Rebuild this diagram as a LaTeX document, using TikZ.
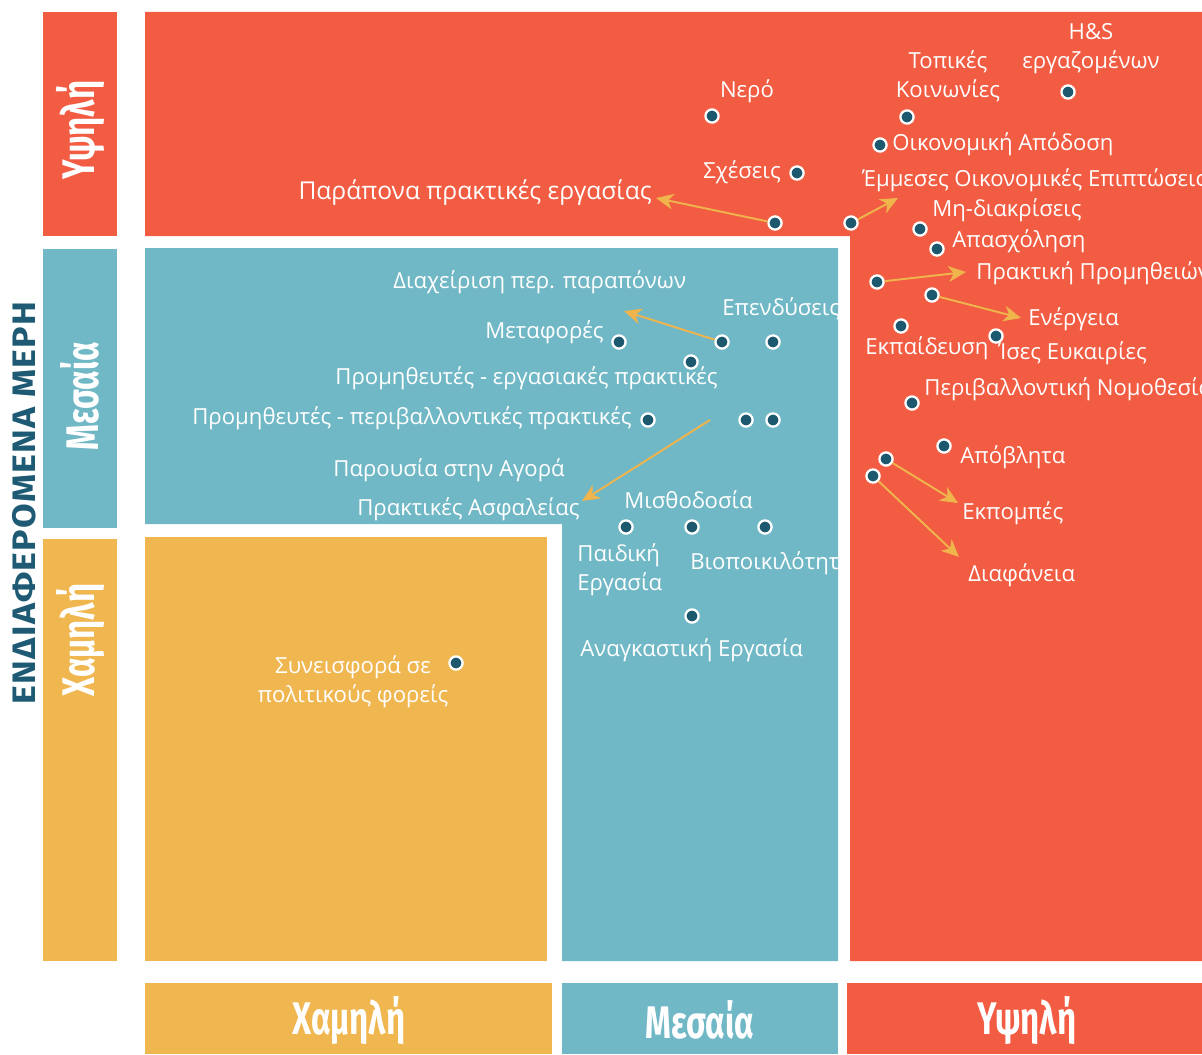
\documentclass[tikz,border=0pt]{standalone}
\usepackage{fontspec}
\setmainfont{Open Sans}
\newfontfamily\axisfont{Fira Sans}[FakeStretch=0.72]
\newfontfamily\titlefont{Fira Sans}[FakeStretch=1.1, LetterSpace=4]
\usetikzlibrary{arrows.meta}

\definecolor{hired}{RGB}{241,92,66}
\definecolor{midteal}{RGB}{113,184,198}
\definecolor{lowyel}{RGB}{240,183,80}
\definecolor{dotblue}{RGB}{28,88,110}
\definecolor{arrowyel}{RGB}{240,180,76}
\definecolor{axisblue}{RGB}{30,90,115}

\begin{document}
\begin{tikzpicture}[
x=0.02cm, y=-0.02cm,
topic/.style={
circle,
fill=dotblue,
draw=white,
line width=1.3pt,
minimum size=7.5pt,
inner sep=0 pt,
},
txt/.style={text=white, inner sep=0 pt, font=\fontsize{12.6}{16.5}\selectfont},
link/.style={draw=arrowyel, line width=1.1pt, -{Stealth[length=10pt, width=9pt, inset=3pt]}},
axis/.style={text=white, font=\axisfont\bfseries\fontsize{26}{30}\selectfont}
]
\useasboundingbox (0,0) rectangle (1202,1054);

% zones
\fill[hired] (145,12) rectangle (1202,236) (850,12) rectangle (1202,961);
\fill[midteal] (145,248) rectangle (838,524) (562,248) rectangle (838,961);
\fill[lowyel] (145,537) rectangle (547,961);

% axis boxes
\fill[hired] (43,12) rectangle (117,236);
\fill[midteal] (43,249) rectangle (117,528);
\fill[lowyel] (43,539) rectangle (117,961);
\fill[lowyel] (145,983) rectangle (552,1054);
\fill[midteal] (562,983) rectangle (838,1054);
\fill[hired] (847,983) rectangle (1202,1054);

% axis labels
\node[axis, rotate=90] (y-hi) at (80,130) {Υψηλή};
\node[axis, rotate=90] (y-mid) at (80,396) {Μεσαία};
\node[axis, rotate=90] (y-lo) at (80,640) {Χαμηλή};
\node[rotate=90, text=axisblue, font=\titlefont\bfseries\fontsize{18.5}{20}\selectfont]
(y-title) at (24,503) {ΕΝΔΙΑΦΕΡΟΜΕΝΑ ΜΕΡΗ};
\node[axis] (x-lo) at (349,1020) {Χαμηλή};
\node[axis] (x-mid) at (700,1020) {Μεσαία};
\node[axis] (x-hi) at (1027,1020) {Υψηλή};

% high zone
\node[topic] (nero) at (712,116) {};
\node[txt] (nero-t) at (747,91) {Νερό};
\node[topic] (topikes) at (907,117) {};
\node[txt, align=center] (topikes-t) at (948,76) {Τοπικές\\Κοινωνίες};
\node[topic] (hs) at (1068,92) {};
\node[txt, align=center] (hs-t) at (1091,49) {H\&S\\εργαζομένων};
\node[topic] (oikap) at (880,145) {};
\node[txt, anchor=west] (oikap-t) at (892,144) {Οικονομική Απόδοση};
\node[topic] (sxeseis) at (797,173) {};
\node[txt, anchor=east] (sxeseis-t) at (781,172) {Σχέσεις};
\node[txt, anchor=east, font=\fontsize{14}{16.5}\selectfont] (parapona-t) at (652,193) {Παράπονα πρακτικές εργασίας};
\node[topic] (parapona) at (775,223) {};
\coordinate (parapona-a) at (656,198);
\node[txt, anchor=west] (emmeses-t) at (862,180) {Έμμεσες Οικονομικές Επιπτώσεις};
\node[topic] (emmeses) at (851,223) {};
\coordinate (emmeses-a) at (898,198);
\node[topic] (mhdiakr) at (920,229) {};
\node[txt, anchor=west] (mhdiakr-t) at (932,210) {Μη-διακρίσεις};
\node[topic] (apasx) at (937,249) {};
\node[txt, anchor=west] (apasx-t) at (952,241) {Απασχόληση};
\node[topic] (promith) at (877,282) {};
\coordinate (promith-a) at (966,272);
\node[txt, anchor=west] (promith-t) at (976,273) {Πρακτική Προμηθειών};
\node[topic] (energeia) at (932,295) {};
\coordinate (energeia-a) at (1021,318);
\node[txt, anchor=west] (energeia-t) at (1028,319) {Ενέργεια};
\node[topic] (ekpaid) at (901,326) {};
\node[txt, anchor=west] (ekpaid-t) at (865,348) {Εκπαίδευση};
\node[topic] (ises) at (996,336) {};
\node[txt, anchor=west] (ises-t) at (998,353) {Ίσες Ευκαιρίες};
\node[topic] (perivnom) at (912,403) {};
\node[txt, anchor=west] (perivnom-t) at (924,389) {Περιβαλλοντική Νομοθεσία};
\node[topic] (apovl) at (944,446) {};
\node[txt, anchor=west] (apovl-t) at (960,457) {Απόβλητα};
\node[topic] (ekpompes) at (886,459) {};
\coordinate (ekpompes-a) at (958,503);
\node[txt, anchor=west] (ekpompes-t) at (962,513) {Εκπομπές};
\node[topic] (diaf) at (873,476) {};
\coordinate (diaf-a) at (959,557);
\node[txt, anchor=west] (diaf-t) at (968,575) {Διαφάνεια};

% medium zone
\begin{scope}
\clip (145,248) rectangle (838,961);
\node[txt, anchor=west] (diax-t) at (393,282) {Διαχείριση περ. παραπόνων};
\node[txt, anchor=west] (ependyseis-t) at (722,309) {Επενδύσεις};
\node[txt, anchor=west] (viopoik-t) at (690,563) {Βιοποικιλότητα};
\end{scope}
\node[topic] (diax) at (722,342) {};
\coordinate (diax-a) at (624,311);
\node[topic] (ependyseis) at (773,342) {};
\node[txt, anchor=east] (metafores-t) at (604,332) {Μεταφορές};
\node[topic] (metafores) at (619,342) {};
\node[topic] (promerg) at (691,362) {};
\node[txt, anchor=east] (promerg-t) at (718,378) {Προμηθευτές - εργασιακές πρακτικές};
\node[txt, anchor=east] (promper-t) at (632,418) {Προμηθευτές - περιβαλλοντικές πρακτικές};
\node[topic] (promper) at (648,420) {};
\node[topic] (parousia) at (746,420) {};
\node[topic] (asfal) at (773,420) {};
\coordinate (asfal-s) at (710,420);
\coordinate (asfal-a) at (582,501);
\node[txt, anchor=east] (parousia-t) at (565,470) {Παρουσία στην Αγορά};
\node[txt, anchor=east] (asfal-t) at (580,509) {Πρακτικές Ασφαλείας};
\node[txt, anchor=west] (misth-t) at (624,500) {Μισθοδοσία};
\node[topic] (paidiki) at (626,527) {};
\node[topic] (misth) at (692,527) {};
\node[topic] (viopoik) at (765,527) {};
\node[txt, anchor=north west, align=left] (paidiki-t) at (577,543) {Παιδική\\Εργασία};
\node[topic] (anagk) at (692,616) {};
\node[txt, anchor=west] (anagk-t) at (580,650) {Αναγκαστική Εργασία};

% low zone
\node[txt, align=center] (synisf-t) at (353,682) {Συνεισφορά σε\\πολιτικούς φορείς};
\node[topic] (synisf) at (456,663) {};

% shifts
\draw[link] (parapona) -- (parapona-a);
\draw[link] (emmeses) -- (emmeses-a);
\draw[link] (promith) -- (promith-a);
\draw[link] (energeia) -- (energeia-a);
\draw[link] (ekpompes) -- (ekpompes-a);
\draw[link] (diaf) -- (diaf-a);
\draw[link] (diax) -- (diax-a);
\draw[link] (asfal-s) -- (asfal-a);

\end{tikzpicture}
\end{document}
